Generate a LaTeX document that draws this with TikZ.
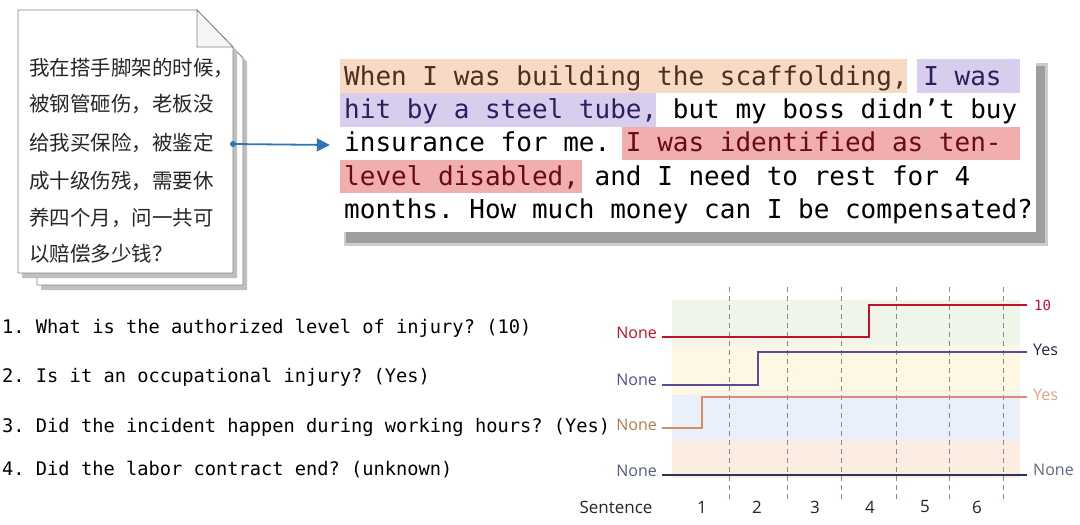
\documentclass[tikz,border=0pt]{standalone}
\usepackage{fontspec}
\setmainfont{Open Sans}
\setmonofont{DejaVu Sans Mono}
\newfontfamily\cjk{Noto Sans CJK SC}
\usetikzlibrary{arrows.meta}
\definecolor{arrowblue}{HTML}{2E75B6}
\definecolor{hlor}{HTML}{F8DAC4}
\definecolor{hlpu}{HTML}{D8CDEC}
\definecolor{hlre}{HTML}{F0AEAE}
\definecolor{txor}{HTML}{4A3020}
\definecolor{txpu}{HTML}{2A2060}
\definecolor{txre}{HTML}{6A0A14}
\definecolor{lred}{HTML}{C0102A}
\definecolor{lpur}{HTML}{5A4A9A}
\definecolor{ltan}{HTML}{D09060}
\definecolor{ltanup}{HTML}{DE8A7E}
\definecolor{lnavy}{HTML}{2B3556}
\definecolor{bgreen}{HTML}{EFF6E9}
\definecolor{byellow}{HTML}{FDF7E4}
\definecolor{bblue}{HTML}{E9F0F9}
\definecolor{bpeach}{HTML}{FCEDE2}
\definecolor{pageline}{HTML}{7A8490}
\definecolor{dashgray}{HTML}{7F8C95}
\tikzset{
  monotext/.style={anchor=base west, inner sep=0pt, font=\ttfamily\fontsize{26}{33}\selectfont},
  question/.style={anchor=base west, inner sep=0pt, font=\ttfamily\fontsize{18.7}{22}\selectfont},
  cjkline/.style={anchor=base west, inner sep=0pt, font=\cjk\fontsize{20.5}{37}\selectfont, text=black!85},
  leftlab/.style={anchor=east, inner sep=0pt, font=\fontsize{16}{19}\selectfont},
  rightlab/.style={anchor=west, inner sep=0pt, font=\fontsize{16}{19}\selectfont},
  axislab/.style={anchor=center, inner sep=0pt, font=\fontsize{17}{20}\selectfont, text=black!85},
  pageshape/.style={fill=white, draw=pageline, line width=0.8pt},
  vdash/.style={draw=dashgray, line width=0.6pt, dash pattern=on 5pt off 4pt},
  stepline/.style={line width=1.8pt},
}
\begin{document}
\begin{tikzpicture}[x=1pt,y=-1pt]
\useasboundingbox (0,0) rectangle (1080,525);
\fill[white] (0,0) rectangle (1080,525);

% ---------------- document icon ----------------
\fill[black!25] (41,26) -- (211,26) -- (247,62) -- (247,290) -- (41,290) -- cycle;
\draw[pageshape] (37,22) -- (207,22) -- (243,58) -- (243,285) -- (37,285) -- cycle;
\fill[black!25] (22,14) -- (201,14) -- (237,51) -- (237,278) -- (22,278) -- cycle;
\draw[pageshape] (18,10) -- (197,10) -- (233,47) -- (233,273) -- (18,273) -- cycle;
\draw[pageshape, fill=black!4] (197,10) -- (197,47) -- (233,47) -- cycle;
\node[cjkline] (cn1) at (29,75)  {我在搭手脚架的时候，};
\node[cjkline] (cn2) at (29,111) {被钢管砸伤，老板没};
\node[cjkline] (cn3) at (29,150) {给我买保险，被鉴定};
\node[cjkline] (cn4) at (29,188) {成十级伤残，需要休};
\node[cjkline] (cn5) at (29,225) {养四个月，问一共可};
\node[cjkline] (cn6) at (29,261) {以赔偿多少钱？};
\coordinate (docR) at (233,144);

% ---------------- text box ----------------
\fill[black!20] (344,63) rectangle (1048,246);
\fill[black!38] (346,66) rectangle (1045,243);
\node[fill=white, inner sep=0pt, minimum width=698pt, minimum height=174pt] (tb) at (687,145) {};
\fill[hlor] (340,59) rectangle (907,93);
\fill[hlpu] (917,59) rectangle (1020,93);
\fill[hlpu] (340,93) rectangle (656,127);
\fill[hlre] (622,127) rectangle (1020,160);
\fill[hlre] (340,160) rectangle (582,193);
\node[monotext] (l1) at (344,85)  {\textcolor{txor}{When I was building the scaffolding,} \textcolor{txpu}{I was}};
\node[monotext] (l2) at (344,118) {\textcolor{txpu}{hit by a steel tube,} but my boss didn’t buy};
\node[monotext] (l3) at (344,151) {insurance for me. \textcolor{txre}{I was identified as ten-}};
\node[monotext] (l4) at (344,185) {\textcolor{txre}{level disabled,} and I need to rest for 4};
\node[monotext] (l5) at (344,218) {months. How much money can I be compensated?};

% arrow
\fill[arrowblue] (docR) circle (3pt);
\draw[arrowblue, line width=1.8pt, -{Triangle[length=13pt,width=13pt]}] (docR) -- ([xshift=-8pt]tb.west);

% ---------------- questions ----------------
\node[question] (q1) at (2,333) {1. What is the authorized level of injury? (10)};
\node[question] (q2) at (2,382) {2. Is it an occupational injury? (Yes)};
\node[question] (q3) at (2,432) {3. Did the incident happen during working hours? (Yes)};
\node[question] (q4) at (2,475) {4. Did the labor contract end? (unknown)};

% ---------------- chart ----------------
\fill[bgreen]  (672,300) rectangle (1020,345);
\fill[byellow] (672,345) rectangle (1020,395);
\fill[bblue]   (672,395) rectangle (1020,440);
\fill[bpeach]  (672,440) rectangle (1020,478);
\foreach \x in {729,787,841,896,949,1003}
  \draw[vdash] (\x,287) -- (\x,500);

% line 1 (red)
\draw[stepline, lred] (662,337) -- (869,337) -- (869,305) -- (1027,305);
% line 2 (purple)
\draw[stepline, lpur] (662,385) -- (758,385) -- (758,352) -- (1027,352);
% line 3 (tan)
\draw[stepline, ltan] (662,428) -- (702,428) -- (702,397);
\draw[stepline, ltanup] (701.1,397) -- (1027,397);
% line 4 (navy)
\draw[stepline, lnavy] (662,475) -- (1027,475);

\node[leftlab, text=lred] (a1) at (657,333) {None};
\node[leftlab, text=lpur] (a2) at (657,380) {None};
\node[leftlab, text=ltan!85!black] (a3) at (657,425) {None};
\node[leftlab, text=lnavy!80] (a4) at (657,471) {None};
\node[rightlab, text=lred, font=\ttfamily\fontsize{14}{16}\selectfont] (b1) at (1034,305) {10};
\node[rightlab, text=black!55!lpur] (b2) at (1033,350) {Yes};
\node[rightlab, text=ltan!80] (b3) at (1033,395) {Yes};
\node[rightlab, text=lnavy!75] (b4) at (1033,470) {None};

\node[axislab] (s0) at (616,507) {Sentence};
\node[axislab] (s1) at (702,507) {1};
\node[axislab] (s2) at (757,507) {2};
\node[axislab] (s3) at (815,507) {3};
\node[axislab] (s4) at (870,507) {4};
\node[axislab] (s5) at (925,507) {5};
\node[axislab] (s6) at (977,507) {6};
\end{tikzpicture}
\end{document}
